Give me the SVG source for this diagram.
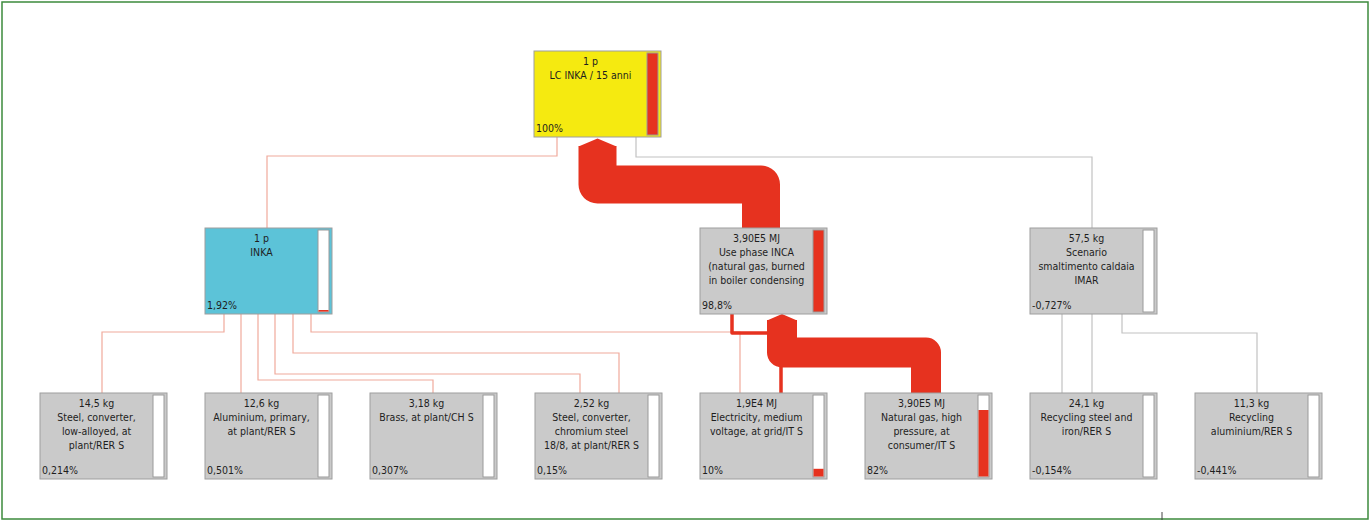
<svg xmlns="http://www.w3.org/2000/svg" width="1371" height="522" viewBox="0 0 1371 522">
<style>
.bg{fill:#ffffff}
.frame{fill:none;stroke:#3d8b3d;stroke-width:1.5}
.box{stroke:#9e9e9e;stroke-width:1}
.grey{fill:#cacaca}
.yellow{fill:#f5ea10}
.cyan{fill:#5cc3d8}
.bar{fill:#ffffff;stroke:#9a9a9a;stroke-width:1}
.red{fill:#e6321f}
.t{font-family:"DejaVu Sans","Liberation Sans",sans-serif;font-stretch:condensed;font-size:10.5px;fill:#1e1e1e;text-anchor:middle}
.p{font-family:"DejaVu Sans","Liberation Sans",sans-serif;font-stretch:condensed;font-size:10.5px;fill:#1e1e1e;text-anchor:start}
.ls{fill:none;stroke:#f0aa9c;stroke-width:1.2}
.lg{fill:none;stroke:#c2c2c2;stroke-width:1.2}
.flow{fill:none;stroke:#e6321f;stroke-linejoin:round}
</style>
<rect class="bg" x="0" y="0" width="1371" height="522"/>
<rect class="frame" x="2" y="2" width="1366" height="517"/>
<line x1="1162" y1="512" x2="1162" y2="520" stroke="#444444" stroke-width="1"/>

<g id="connectors">
  <polyline class="ls" points="557,137 557,156 267,156 267,228"/>
  <polyline class="lg" points="636,137 636,157 1092,157 1092,228"/>
  <polyline class="ls" points="224,314 224,332 102,332 102,393"/>
  <polyline class="ls" points="241,314 241,393"/>
  <polyline class="ls" points="258,314 258,380 433,380 433,393"/>
  <polyline class="ls" points="275,314 275,374 580,374 580,393"/>
  <polyline class="ls" points="293,314 293,353 619,353 619,393"/>
  <polyline class="ls" points="311,314 311,332 740,332 740,393"/>
  <polyline class="lg" points="1062,314 1062,393"/>
  <polyline class="lg" points="1092,314 1092,393"/>
  <polyline class="lg" points="1122,314 1122,333 1257,333 1257,393"/>
  <polyline class="flow" stroke-width="3.5" points="732,314 732,333 781,333 781,393"/>
  <path class="flow" stroke-width="38" d="M597.5,146 L597.5,184.5 L761,184.5 L761,228"/>
  <polygon class="red" points="578.5,146.5 597.5,138.5 616.5,146.5"/>
  <path class="flow" stroke-width="30" d="M782,320 L782,352.5 L926,352.5 L926,393"/>
  <polygon class="red" points="767,320.5 782,314 797,320.5"/>
</g>

<g id="node-top">
  <rect class="box yellow" x="534" y="51" width="127" height="86"/>
  <rect class="bar red" x="647" y="53" width="11" height="82"/>
  <text class="t" x="590.5" y="65">1 p</text>
  <text class="t" x="590.5" y="79">LC INKA / 15 anni</text>
  <text class="p" x="536" y="132">100%</text>
</g>

<g id="node-inka">
  <rect class="box cyan" x="205" y="228" width="127" height="86"/>
  <rect class="bar" x="318" y="230" width="11" height="82"/>
  <rect class="red" x="318.5" y="310" width="10" height="1.6"/>
  <text class="t" x="261.5" y="242">1 p</text>
  <text class="t" x="261.5" y="256">INKA</text>
  <text class="p" x="207" y="309">1,92%</text>
</g>

<g id="node-use">
  <rect class="box grey" x="700" y="228" width="127" height="86"/>
  <rect class="bar red" x="813" y="230" width="11" height="82"/>
  <text class="t" x="756.5" y="242">3,90E5 MJ</text>
  <text class="t" x="756.5" y="256">Use phase INCA</text>
  <text class="t" x="756.5" y="270">(natural gas, burned</text>
  <text class="t" x="756.5" y="284">in boiler condensing</text>
  <text class="p" x="702" y="309">98,8%</text>
</g>

<g id="node-scenario">
  <rect class="box grey" x="1030" y="228" width="127" height="86"/>
  <rect class="bar" x="1143" y="230" width="11" height="82"/>
  <text class="t" x="1086.5" y="242">57,5 kg</text>
  <text class="t" x="1086.5" y="256">Scenario</text>
  <text class="t" x="1086.5" y="270">smaltimento caldaia</text>
  <text class="t" x="1086.5" y="284">IMAR</text>
  <text class="p" x="1032" y="309">-0,727%</text>
</g>

<g id="node-steel-low">
  <rect class="box grey" x="40" y="393" width="127" height="86"/>
  <rect class="bar" x="153" y="395" width="11" height="82"/>
  <text class="t" x="96.5" y="407">14,5 kg</text>
  <text class="t" x="96.5" y="421">Steel, converter,</text>
  <text class="t" x="96.5" y="435">low-alloyed, at</text>
  <text class="t" x="96.5" y="449">plant/RER S</text>
  <text class="p" x="42" y="474">0,214%</text>
</g>

<g id="node-aluminium">
  <rect class="box grey" x="205" y="393" width="127" height="86"/>
  <rect class="bar" x="318" y="395" width="11" height="82"/>
  <text class="t" x="261.5" y="407">12,6 kg</text>
  <text class="t" x="261.5" y="421">Aluminium, primary,</text>
  <text class="t" x="261.5" y="435">at plant/RER S</text>
  <text class="p" x="207" y="474">0,501%</text>
</g>

<g id="node-brass">
  <rect class="box grey" x="370" y="393" width="127" height="86"/>
  <rect class="bar" x="483" y="395" width="11" height="82"/>
  <text class="t" x="426.5" y="407">3,18 kg</text>
  <text class="t" x="426.5" y="421">Brass, at plant/CH S</text>
  <text class="p" x="372" y="474">0,307%</text>
</g>

<g id="node-steel-chromium">
  <rect class="box grey" x="535" y="393" width="127" height="86"/>
  <rect class="bar" x="648" y="395" width="11" height="82"/>
  <text class="t" x="591.5" y="407">2,52 kg</text>
  <text class="t" x="591.5" y="421">Steel, converter,</text>
  <text class="t" x="591.5" y="435">chromium steel</text>
  <text class="t" x="591.5" y="449">18/8, at plant/RER S</text>
  <text class="p" x="537" y="474">0,15%</text>
</g>

<g id="node-electricity">
  <rect class="box grey" x="700" y="393" width="127" height="86"/>
  <rect class="bar" x="813" y="395" width="11" height="82"/>
  <rect class="red" x="813.5" y="468.8" width="10" height="7.7"/>
  <text class="t" x="756.5" y="407">1,9E4 MJ</text>
  <text class="t" x="756.5" y="421">Electricity, medium</text>
  <text class="t" x="756.5" y="435">voltage, at grid/IT S</text>
  <text class="p" x="702" y="474">10%</text>
</g>

<g id="node-natural-gas">
  <rect class="box grey" x="865" y="393" width="127" height="86"/>
  <rect class="bar" x="978" y="395" width="11" height="82"/>
  <rect class="red" x="978.5" y="410" width="10" height="66.5"/>
  <text class="t" x="921.5" y="407">3,90E5 MJ</text>
  <text class="t" x="921.5" y="421">Natural gas, high</text>
  <text class="t" x="921.5" y="435">pressure, at</text>
  <text class="t" x="921.5" y="449">consumer/IT S</text>
  <text class="p" x="867" y="474">82%</text>
</g>

<g id="node-recycling-steel">
  <rect class="box grey" x="1030" y="393" width="127" height="86"/>
  <rect class="bar" x="1143" y="395" width="11" height="82"/>
  <text class="t" x="1086.5" y="407">24,1 kg</text>
  <text class="t" x="1086.5" y="421">Recycling steel and</text>
  <text class="t" x="1086.5" y="435">iron/RER S</text>
  <text class="p" x="1032" y="474">-0,154%</text>
</g>

<g id="node-recycling-aluminium">
  <rect class="box grey" x="1195" y="393" width="127" height="86"/>
  <rect class="bar" x="1308" y="395" width="11" height="82"/>
  <text class="t" x="1251.5" y="407">11,3 kg</text>
  <text class="t" x="1251.5" y="421">Recycling</text>
  <text class="t" x="1251.5" y="435">aluminium/RER S</text>
  <text class="p" x="1197" y="474">-0,441%</text>
</g>
</svg>
